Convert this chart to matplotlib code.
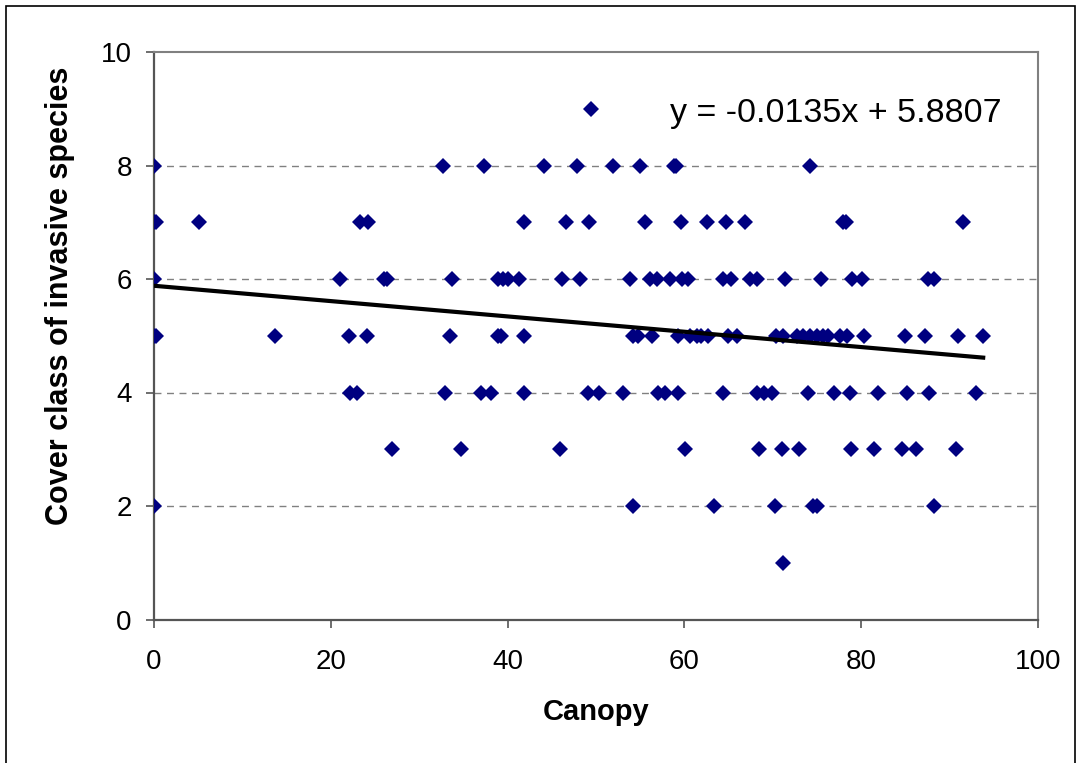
import numpy as np
import matplotlib
matplotlib.use("Agg")
import matplotlib.pyplot as plt
from matplotlib.patches import Rectangle

plt.rcParams['font.family'] = ['Liberation Sans', 'DejaVu Sans']

# canopy values, grouped by cover class
canopy_9 = [49.4]
canopy_8 = [0, 32.7, 37.3, 44.1, 47.9, 51.9, 55.0, 58.8, 59.1, 74.2]
canopy_7 = [0, 0.2, 5.1, 23.3, 24.2, 41.9, 46.6, 49.2, 55.5, 59.6, 62.6, 64.7,
            66.9, 77.9, 78.3, 91.5]
canopy_6 = [0, 21.0, 26.0, 26.4, 33.7, 38.9, 39.5, 40.1, 41.3, 46.2, 48.2, 53.8,
            56.1, 56.9, 58.4, 59.7, 60.4, 64.4, 65.3, 67.4, 68.2, 71.4, 75.5,
            79.0, 80.1, 87.6, 88.2]
canopy_5 = [0, 0.2, 13.7, 22.1, 24.1, 33.5, 38.9, 39.3, 41.9, 54.2, 54.8, 56.3,
            59.3, 60.6, 61.4, 61.9, 62.7, 64.9, 66.0, 70.4, 71.2, 72.7, 73.4,
            74.2, 75.0, 75.7, 76.3, 77.6, 78.4, 80.3, 85.0, 87.2, 91.0, 93.8]
canopy_4 = [22.2, 23.0, 32.9, 37.0, 38.1, 41.9, 49.1, 50.3, 53.0, 57.0, 57.8,
            59.3, 64.4, 68.2, 69.0, 69.9, 74.0, 76.9, 78.7, 81.9, 85.2, 87.7, 93.0]
canopy_3 = [26.9, 34.7, 45.9, 60.1, 68.4, 71.0, 73.0, 78.8, 81.4, 84.6, 86.2, 90.7]
canopy_2 = [0, 54.2, 63.3, 70.2, 74.6, 75.0, 88.2]
canopy_1 = [71.2]

# trendline from the chart label
slope = -0.0135
intercept = 5.8807

groups = {9: canopy_9, 8: canopy_8, 7: canopy_7, 6: canopy_6, 5: canopy_5,
          4: canopy_4, 3: canopy_3, 2: canopy_2, 1: canopy_1}
x = np.concatenate([np.array(v, dtype=float) for v in groups.values()])
y = np.concatenate([np.full(len(v), k, dtype=float) for k, v in groups.items()])

fig = plt.figure(figsize=(10.77, 7.63), dpi=100)
ax = fig.add_axes([154 / 1077, 1 - 619.5 / 763, 884 / 1077, 567.5 / 763])

# outer chart frame
fig.add_artist(Rectangle((6 / 1077, -0.05), 1069 / 1077, 1.05 - 6 / 763,
                         transform=fig.transFigure, fill=False,
                         edgecolor='black', linewidth=1.2))

ax.set_xlim(0, 100)
ax.set_ylim(0, 10)
ax.set_xticks(np.arange(0, 101, 20))
ax.set_yticks(np.arange(0, 11, 2))

for yv in [2, 4, 6, 8]:
    ax.axhline(yv, color='#808080', linestyle=(0, (5, 4)), linewidth=1.0, zorder=1)

ax.plot(x, y, linestyle='none', marker='D', markersize=8.6, color='#000080',
        markeredgewidth=0, zorder=3)

xl = np.array([x.min(), x.max()])
ax.plot(xl, slope * xl + intercept, color='black', linewidth=3.0, zorder=4)

ax.text(0.584, 0.877, f'y = {slope}x + {intercept}', transform=ax.transAxes,
        fontsize=24.5, ha='left', va='baseline')

for side in ['top', 'right']:
    ax.spines[side].set_color('#808080')
    ax.spines[side].set_linewidth(1.5)
for side in ['left', 'bottom']:
    ax.spines[side].set_color('#555555')
    ax.spines[side].set_linewidth(1.6)

ax.tick_params(axis='both', direction='out', length=6, width=1.2,
               color='#555555', labelsize=20)
ax.tick_params(axis='x', pad=15)
ax.tick_params(axis='y', pad=10)

ax.set_xlabel('Canopy', fontsize=21, fontweight='bold', va='center')
ax.xaxis.set_label_coords(0.5, (619.5 - 712) / 567.5)
ax.set_ylabel('Cover class of invasive species', fontsize=22,
              fontweight='bold', va='center')
ax.yaxis.set_label_coords((60 - 154) / 884, (619.5 - 295.5) / 567.5)

fig.savefig('out.png', dpi=100)
